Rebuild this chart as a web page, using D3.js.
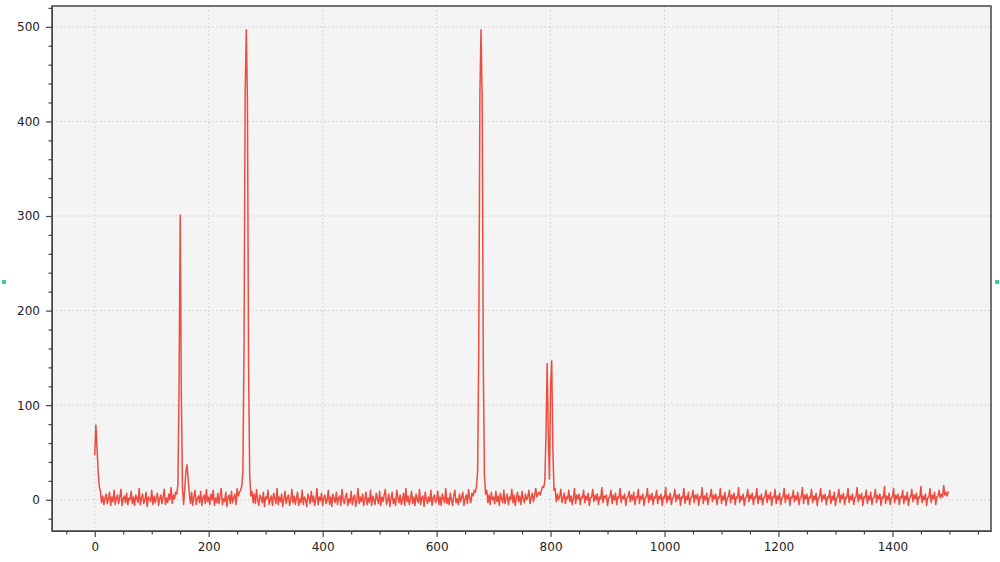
<!DOCTYPE html>
<html>
<head>
<meta charset="utf-8">
<script src="https://cdn.jsdelivr.net/npm/d3@7"></script>
<style>
  body { margin: 0; background: #fff; }
  .axis text { font-family: "DejaVu Sans", sans-serif; font-size: 12px; fill: #222; }
  .axis path, .axis line { stroke: #444; }
  .grid line { stroke: #d8d8d8; stroke-dasharray: 2,2; }
</style>
</head>
<body>
<div class="render"></div>
<script>
"use strict";

var width = 1000;
var height = 562;

// sample spacing along x
var xStep = 2;

// y values, one every xStep units starting at 0
var yValues = [
  47, 79, 55, 30, 14, 9, -3, 4, -5, 2, 6, -4, 1, 8, -6, 3, -2, 10, -5, 2,
  5, -4, 3, 11, -6, 1, 4, -3, 7, -5, 2, 0, 9, -4, 3, -6, 5, 1, -3, 12,
  -5, 2, 6, -4, 0, 8, -7, 3, 1, -2, 10, -5, 4, -3, 2, 7, -6, 1, 5, -4,
  3, 11, -5, 2, -3, 6, 0, 13, -4, 5, 1, 8, 6, 16, 120, 301, 110, 12, -5, 12,
  30, 37, 22, 7, -4, 8, -6, 3, 10, -5, 1, 4, -3, 9, -6, 2, 5, -4, 11, -2,
  3, -5, 6, 0, 10, -6, 2, -3, 7, -4, 4, 12, -5, 1, -2, 8, -7, 3, 5, -4,
  9, -3, 2, 6, -5, 12, 4, 8, 10, 14, 30, 160, 430, 497, 420, 140, 25, 4, 9, -3,
  6, -4, 11, 0, -6, 5, 2, -3, 8, -7, 3, 1, 10, -5, 0, 4, -6, 7, 2, -4,
  12, -5, 3, -2, 6, -7, 1, 9, -4, 2, 5, -6, 0, 11, -3, 4, -5, 2, 8, -6,
  1, -3, 10, -5, 3, 0, -7, 6, 2, -4, 9, -2, 4, -6, 1, 12, -5, 3, -1, 7,
  -6, 2, 5, -4, 0, 10, -5, 3, -7, 6, 1, -3, 8, -5, 2, 4, -6, 11, 0, -4,
  3, 7, -6, 1, -3, 9, -5, 2, 5, -7, 0, 12, -4, 3, -2, 6, -6, 1, 8, -5,
  2, -3, 10, -6, 4, 0, -5, 7, 1, -4, 9, -6, 3, -2, 5, 11, -5, 0, 6, -7,
  2, 8, -4, 1, -6, 10, 3, -3, 5, -5, 0, 7, -6, 12, -2, 4, -5, 1, 9, -4,
  3, -6, 6, 0, -3, 11, -5, 2, 4, -7, 8, 1, -4, 3, -2, 10, -6, 2, 5, -3,
  0, 9, -5, 3, -6, 6, 1, -3, 12, -4, 2, -5, 7, 0, -6, 4, 10, -3, 1, -5,
  6, -2, 3, 8, -6, 1, 5, -4, 11, 2, -3, 7, 4, 10, 8, 14, 30, 160, 430, 497,
  420, 140, 25, 6, 10, -3, 5, -5, 8, 0, 3, -4, 9, -2, 4, -6, 7, 1, -3, 10,
  -4, 2, 6, -5, 3, 0, 11, -3, 5, -6, 2, 8, -2, 4, -5, 9, 1, -3, 6, 0,
  3, 10, -4, 2, 7, -2, 4, 12, 3, 6, 8, 5, 10, 14, 13, 20, 70, 144, 70, 22,
  120, 147, 55, 10, 12, -2, 6, 0, 4, 11, -3, 2, 7, -4, 3, 1, 10, -2, 4, -5,
  2, 12, -4, 5, 1, 6, -5, 3, 2, 10, -3, 4, 0, 7, -6, 2, 3, 11, -2, 5,
  0, 6, -5, 3, 1, 13, -3, 4, 2, 5, -6, 2, 3, 10, -4, 5, 0, 7, -5, 3,
  2, 12, -3, 4, 1, 6, -6, 2, 3, 9, -2, 5, 0, 8, -5, 3, 2, 11, -4, 4,
  1, 6, -6, 2, 3, 12, -3, 5, 0, 7, -5, 3, 2, 10, -4, 4, 1, 6, -6, 3,
  2, 13, -3, 4, 0, 7, -5, 2, 3, 11, -2, 5, 1, 6, -6, 3, 2, 12, -4, 4,
  0, 8, -5, 2, 3, 10, -3, 5, 1, 6, -6, 3, 2, 13, -4, 4, 0, 7, -5, 2,
  3, 11, -2, 5, 1, 6, -5, 3, 2, 12, -4, 4, 0, 8, -6, 2, 3, 10, -3, 5,
  1, 7, -5, 3, 2, 13, -3, 4, 0, 6, -6, 2, 3, 11, -2, 5, 1, 7, -5, 3,
  2, 12, -4, 4, 0, 6, -5, 2, 3, 10, -3, 5, 1, 8, -6, 3, 2, 11, -4, 4,
  0, 7, -5, 2, 3, 12, -3, 5, 1, 6, -6, 3, 2, 10, -2, 4, 0, 8, -5, 2,
  3, 13, -4, 5, 1, 6, -5, 3, 2, 11, -3, 4, 0, 7, -6, 2, 3, 12, -2, 5,
  1, 6, -5, 3, 2, 10, -4, 4, 0, 8, -6, 2, 3, 11, -3, 5, 1, 7, -5, 3,
  2, 12, -3, 4, 0, 6, -5, 2, 3, 13, -2, 5, 1, 7, -6, 3, 2, 10, -4, 4,
  0, 8, -5, 2, 3, 11, -3, 5, 1, 6, -6, 3, 2, 14, -4, 4, 0, 7, -5, 2,
  3, 12, -3, 5, 1, 6, -5, 3, 2, 10, -4, 4, 0, 8, -6, 2, 3, 11, -2, 5,
  1, 7, -5, 3, 2, 14, -3, 4, 0, 6, -6, 2, 3, 12, -3, 5, 1, 8, -5, 3,
  4, 10, 2, 6, 3, 15, 5, 8, 4, 9
];

var xMajorTicks = [0, 200, 400, 600, 800, 1000, 1200, 1400];
var yMajorTicks = [0, 100, 200, 300, 400, 500];

var margin = { left: 52, top: 6, right: 9, bottom: 31 };
var plotW = width - margin.left - margin.right;
var plotH = height - margin.top - margin.bottom;

var data = yValues.map(function (v, i) { return [i * xStep, v]; });

var x = d3.scaleLinear().domain([-75, 1573]).range([0, plotW]);
var y = d3.scaleLinear().domain([-33, 522]).range([plotH, 0]);

var svg = d3.select('.render').append('svg').attr('width', width).attr('height', height);

// small green handles at the sides
svg.append('rect').attr('x', 2).attr('y', 280).attr('width', 4).attr('height', 4).attr('fill', '#3fd08f');
svg.append('rect').attr('x', 995).attr('y', 280).attr('width', 4).attr('height', 4).attr('fill', '#3fd08f');

var g = svg.append('g').attr('transform', 'translate(' + margin.left + ',' + margin.top + ')');

g.append('rect').attr('width', plotW).attr('height', plotH).attr('fill', '#f4f4f4');

g.append('g').attr('class', 'grid')
  .selectAll('line').data(xMajorTicks).enter().append('line')
  .attr('x1', function (d) { return x(d); }).attr('x2', function (d) { return x(d); })
  .attr('y1', 0).attr('y2', plotH);
g.append('g').attr('class', 'grid')
  .selectAll('line').data(yMajorTicks).enter().append('line')
  .attr('y1', function (d) { return y(d); }).attr('y2', function (d) { return y(d); })
  .attr('x1', 0).attr('x2', plotW);

var line = d3.line().x(function (d) { return x(d[0]); }).y(function (d) { return y(d[1]); });
g.append('path').datum(data)
  .attr('fill', 'none').attr('stroke', '#ee4236').attr('stroke-width', 1.5)
  .attr('stroke-opacity', 0.95).attr('stroke-linejoin', 'round')
  .attr('d', line);

// minor ticks
var xMinor = d3.range(-50, 1575, 50).filter(function (d) { return d % 200 !== 0; });
var yMinor = d3.range(-20, 521, 20).filter(function (d) { return d % 100 !== 0; });

g.append('g').attr('class', 'axis').attr('transform', 'translate(0,' + plotH + ')')
  .call(d3.axisBottom(x).tickValues(xMajorTicks).tickFormat(d3.format('d')).tickSize(6).tickPadding(5).tickSizeOuter(0));
g.append('g').attr('class', 'axis').attr('transform', 'translate(0,' + plotH + ')')
  .call(d3.axisBottom(x).tickValues(xMinor).tickSize(3.5).tickFormat('').tickSizeOuter(0))
  .select('.domain').remove();
g.append('g').attr('class', 'axis')
  .call(d3.axisLeft(y).tickValues(yMajorTicks).tickFormat(d3.format('d')).tickSize(6).tickPadding(6).tickSizeOuter(0));
g.append('g').attr('class', 'axis')
  .call(d3.axisLeft(y).tickValues(yMinor).tickSize(3.5).tickFormat('').tickSizeOuter(0))
  .select('.domain').remove();

g.selectAll('.axis line').attr('stroke-width', 1.2);

// frame
g.append('rect').attr('width', plotW).attr('height', plotH)
  .attr('fill', 'none').attr('stroke', '#444').attr('stroke-width', 1.5);
</script>
</body>
</html>
